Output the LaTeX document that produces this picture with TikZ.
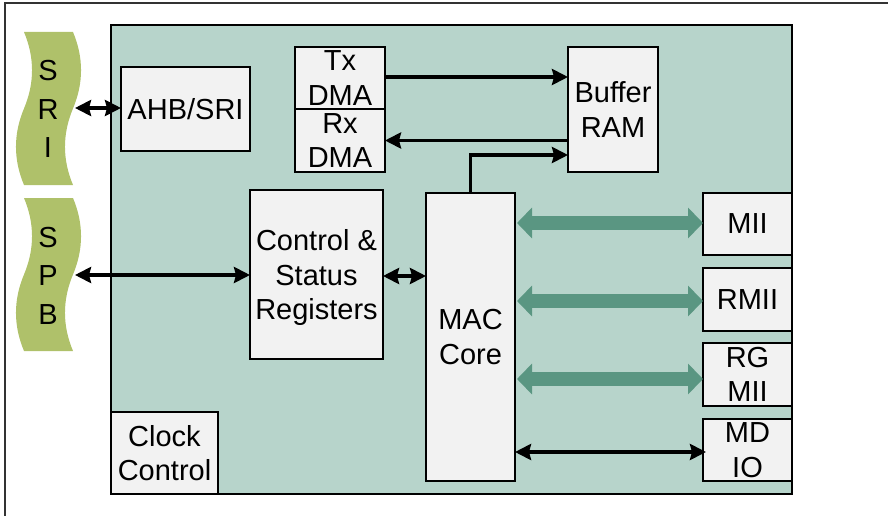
\documentclass[tikz,border=0pt]{standalone}
\usepackage{fontspec}
\setmainfont{Liberation Sans}
\usetikzlibrary{arrows.meta,calc}
\definecolor{bgteal}{HTML}{B7D4CB}
\definecolor{boxfill}{HTML}{F2F2F2}
\definecolor{wavegreen}{HTML}{AFC16A}
\definecolor{arrgreen}{HTML}{5A9682}
\definecolor{framegray}{HTML}{333333}
\begin{document}
\begin{tikzpicture}[x=1pt,y=-1pt,
  blk/.style={draw=black, fill=boxfill, line width=1.8pt, inner sep=0pt, outer sep=0pt},
  lbl/.style={font=\fontsize{29}{34.5}\selectfont, align=center, inner sep=0pt},
  wlbl/.style={font=\fontsize{29}{38.5}\selectfont, align=center, inner sep=0pt},
  dbl/.style={line width=3.8pt, {Stealth[length=16pt,width=16pt,inset=2pt]}-{Stealth[length=16pt,width=16pt,inset=2pt]}},
  one/.style={line width=3.8pt, -{Stealth[length=16pt,width=16pt,inset=2pt]}},
  fat/.style={draw=arrgreen, line width=14pt, {Triangle[length=15pt,width=30pt,fill=arrgreen]}-{Triangle[length=15pt,width=30pt,fill=arrgreen]}},
  wave/.style={fill=wavegreen},
]
\useasboundingbox (0,0) rectangle (888,516);
% outer frame (top and left visible)
\draw[framegray, line width=1.6pt] (5,516) -- (5,3) -- (888,3);
% main block
\draw[fill=bgteal, line width=1.8pt] (111,25) rectangle (792,494);
% waves
\path[wave] (24,32) -- (73,32) .. controls (83.7,57.5) and (83.7,83) .. (73,108.5)
  .. controls (62.3,134) and (62.3,159.5) .. (73,185) -- (24,185)
  .. controls (13.3,159.5) and (13.3,134) .. (24,108.5)
  .. controls (34.7,83) and (34.7,57.5) .. (24,32) -- cycle;
\begin{scope}[shift={(0,166)}]
\path[wave] (24,32) -- (73,32) .. controls (83.7,57.5) and (83.7,83) .. (73,108.5)
  .. controls (62.3,134) and (62.3,159.5) .. (73,185) -- (24,185)
  .. controls (13.3,159.5) and (13.3,134) .. (24,108.5)
  .. controls (34.7,83) and (34.7,57.5) .. (24,32) -- cycle;
\end{scope}
\node[wlbl] (sri) at (48,109) {S\\R\\I};
\node[wlbl] (spb) at (48,275.5) {S\\P\\B};
\coordinate (sriE) at (75,108);
\coordinate (spbE) at (75,275);
% boxes
\node[blk, minimum width=129pt, minimum height=84pt, label={[lbl]center:AHB/SRI}] (ahb) at (185.5,109) {};
\node[blk, minimum width=90pt, minimum height=62pt, label={[lbl]center:{Tx\\DMA}}] (tx) at (340,78) {};
\node[blk, minimum width=90pt, minimum height=63pt, label={[lbl]center:{Rx\\DMA}}] (rx) at (340,140.5) {};
\node[blk, minimum width=90pt, minimum height=125pt, label={[lbl]center:{Buffer\\RAM}}] (buf) at (613,109.5) {};
\node[blk, minimum width=133pt, minimum height=169pt, label={[lbl, yshift=-3pt]center:{Control \&\\Status\\Registers}}] (ctrl) at (316.5,274.5) {};
\node[blk, minimum width=89pt, minimum height=288pt, label={[lbl]center:{MAC\\Core}}] (mac) at (470.5,337) {};
\node[blk, minimum width=89pt, minimum height=62pt, label={[lbl]center:MII}] (mii) at (747.5,224) {};
\node[blk, minimum width=89pt, minimum height=63pt, label={[lbl]center:RMII}] (rmii) at (747.5,299.5) {};
\node[blk, minimum width=89pt, minimum height=63pt, label={[lbl]center:{RG\\MII}}] (rgmii) at (747.5,374.5) {};
\node[blk, minimum width=89pt, minimum height=62pt, label={[lbl]center:{MD\\IO}}] (mdio) at (747.5,450) {};
\node[blk, minimum width=107pt, minimum height=82pt, label={[lbl]center:{Clock\\Control}}] (clk) at (164.5,453) {};
% connectors
\draw[dbl] (sriE) -- (ahb.west |- sriE);
\draw[dbl] (spbE) -- (ctrl.west |- spbE);
\draw[dbl] ([yshift=-1.5pt]ctrl.east) -- ([yshift=-1.5pt]ctrl.east -| mac.west);
\draw[one] ([yshift=1pt]tx.east) -- ([yshift=1pt]tx.east -| buf.west);
\draw[one] (rx.east -| buf.west) -- (rx.east);
\draw[one] (mac.north) |- ([yshift=-45.5pt]buf.west);
\draw[fat] ([xshift=2pt,yshift=1pt]mac.east |- mii.west) -- ([yshift=1pt]mii.west);
\draw[fat] ([xshift=2pt,yshift=-1.5pt]mac.east |- rmii.west) -- ([yshift=-1.5pt]rmii.west);
\draw[fat] ([xshift=2pt,yshift=-4.5pt]mac.east |- rgmii.west) -- ([yshift=-4.5pt]rgmii.west);
\draw[dbl] ([yshift=-2pt]mac.east |- mdio.west) -- ([xshift=3pt,yshift=-2pt]mdio.west);
\end{tikzpicture}
\end{document}
